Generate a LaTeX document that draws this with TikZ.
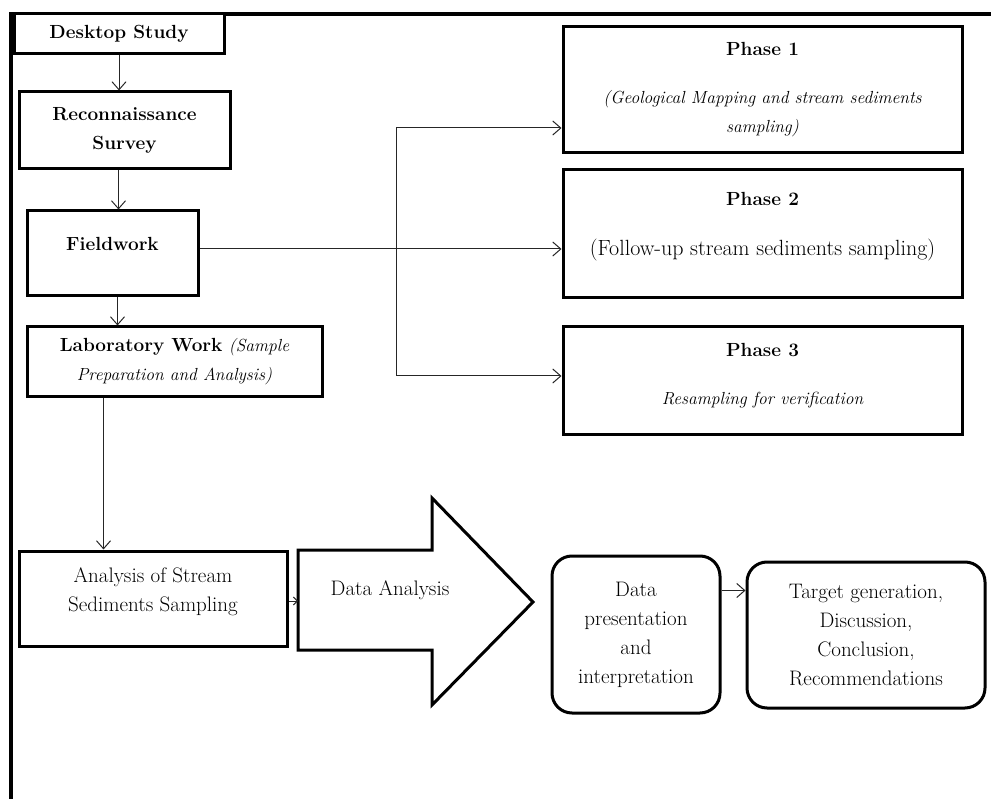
\documentclass[tikz,border=0pt]{standalone}
\usetikzlibrary{positioning,arrows.meta}

\newcommand{\boldlbl}[1]{{\fontsize{19}{29}\selectfont\bfseries #1}}
\newcommand{\itlbl}[1]{{\fontsize{17.5}{29}\selectfont\itshape #1}}

\begin{document}
\begin{tikzpicture}[x=1pt, y=-1pt, >={Straight Barb[length=8pt,width=14pt]},
  box/.style={draw, line width=3pt, fill=white, align=center, inner sep=2pt,
    font=\fontsize{21}{29}\selectfont},
  rbox/.style={box, rounded corners=20pt},
  link/.style={->, line width=1pt, black!85}]
  \useasboundingbox (0,0) rectangle (991,799);

  % Frame
  \draw[line width=3.5pt] (991,14) -- (11,14) -- (11,799);

  % Nodes
  \node[box, minimum width=210pt, minimum height=40pt] (desk) at (119,34) {\boldlbl{Desktop Study}};
  \node[box, minimum width=211pt, minimum height=77pt] (recon) at (124.5,130.5) {\boldlbl{Reconnaissance}\\\boldlbl{Survey}};
  \node[box, minimum width=171pt, minimum height=85pt, text depth=20pt] (field) at (112.5,253.5) {\boldlbl{Fieldwork}};
  \node[box, minimum width=295pt, minimum height=70pt] (lab) at (174.5,362) {\boldlbl{Laboratory Work} \itlbl{(Sample}\\\itlbl{Preparation and Analysis)}};

  \node[box, minimum width=399pt, minimum height=126pt] (p1) at (762.5,90) {\boldlbl{Phase 1}\\[19pt]\itlbl{(Geological Mapping and stream sediments}\\\itlbl{sampling)}};
  \node[box, minimum width=399pt, minimum height=128pt, text depth=21pt] (p2) at (762.5,234) {\boldlbl{Phase 2}\\[21pt]{\fontsize{22}{29}\selectfont(Follow-up stream sediments sampling)}};
  \node[box, minimum width=399pt, minimum height=108pt, text depth=15pt] (p3) at (762.5,381) {\boldlbl{Phase 3}\\[19pt]\itlbl{Resampling for verification}};

  \node[box, minimum width=268pt, minimum height=95pt, text depth=18pt] (ana) at (153,598.5) {Analysis of Stream\\Sediments Sampling};
  \draw[line width=3pt, fill=white] (298,550) -- (432,550) -- (432,498) -- (533,602)
    -- (432,705) -- (432,650) -- (298,650) -- cycle;
  \coordinate (datail) at (298,601);
  \node[font=\fontsize{21}{29}\selectfont] (dana) at (390,590) {Data Analysis};
  \node[rbox, minimum width=168pt, minimum height=157pt] (dpres) at (636,634.5) {Data\\presentation\\and\\interpretation};
  \node[rbox, minimum width=238pt, minimum height=146pt] (target) at (866,635) {Target generation,\\Discussion,\\Conclusion,\\Recommendations};

  % Links
  \coordinate (split) at (396,249);
  \draw[link] (desk.south) -- (desk.south |- recon.north);
  \draw[link] ([xshift=-6pt]recon.south) -- ([xshift=-6pt]recon.south |- field.north);
  \draw[link] ([xshift=5pt]field.south) -- ([xshift=5pt]field.south |- lab.north);
  \draw[link] ([xshift=-71pt]lab.south) -- ([xshift=-71pt]lab.south |- ana.north);
  \draw[link] (field.east |- split) -- (p2.west |- split);
  \draw[link] (split) |- ([yshift=-38pt]p1.west);
  \draw[link] (split) |- ([yshift=5pt]p3.west);
  \draw[line width=1pt, black!85, -{Straight Barb[length=4pt,width=8pt]}] (ana.east |- datail) -- (datail);
  \draw[link] ([yshift=44pt]dpres.east) -- ([yshift=44pt]dpres.east -| target.west);
\end{tikzpicture}
\end{document}
